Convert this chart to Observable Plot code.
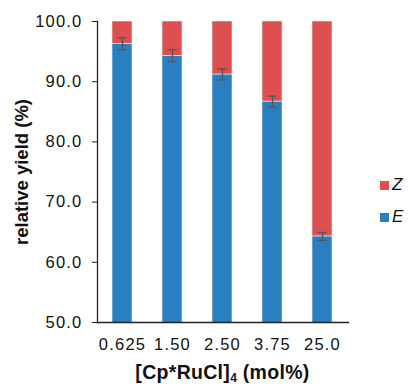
<!DOCTYPE html>
<html>
<head>
<meta charset="utf-8">
<script src="https://cdn.jsdelivr.net/npm/d3@7"></script>
<script src="https://cdn.jsdelivr.net/npm/@observablehq/plot@0.6"></script>
<style>
  body { margin: 0; background: #fff; font-family: "Liberation Sans", Arial, sans-serif; }
  #wrap { position: relative; width: 408px; height: 384px; overflow: hidden; }
  #xlabel { position: absolute; left: 97px; width: 251px; top: 362px; text-align: center; font-weight: bold; font-size: 19.5px; letter-spacing: 0.3px; color: #111; white-space: nowrap; line-height: 20px; }
  #xlabel sub { font-size: 12px; line-height: 0; vertical-align: -3px; }
  .leg { position: absolute; left: 380px; font-size: 17px; font-style: italic; color: #111; display: flex; align-items: center; letter-spacing: 0.5px; }
  .leg span.sw { display: inline-block; width: 9px; height: 9px; margin-right: 3px; }
</style>
</head>
<body>
<div id="wrap"></div>
<script>
const categories = ["0.625", "1.50", "2.50", "3.75", "25.0"];
const eValues = [96.3, 94.3, 91.2, 86.7, 64.3];
const eErrors = [1.0, 1.0, 0.9, 0.9, 0.65];
const seriesNames = ["Z", "E"];
const seriesColors = ["#de4f4f", "#2a7fc1"];
const yTicks = [50, 60, 70, 80, 90, 100];

const rows = [];
categories.forEach((c, i) => rows.push({cat: c, series: "E", value: eValues[i]}));
categories.forEach((c, i) => rows.push({cat: c, series: "Z", value: 100 - eValues[i]}));
const errs = categories.map((c, i) => ({cat: c, lo: eValues[i] - eErrors[i], hi: eValues[i] + eErrors[i]}));

const chart = Plot.plot({
  width: 408,
  height: 360,
  marginLeft: 97,
  marginRight: 60,
  marginTop: 21,
  marginBottom: 38,
  style: {fontFamily: "'Liberation Sans', Arial, sans-serif", color: "#111", background: "white"},
  x: {domain: categories, paddingInner: 0.6, paddingOuter: 0.3, label: null},
  y: {domain: [50, 100], label: null},
  color: {domain: seriesNames, range: seriesColors},
  marks: [
    Plot.barY(rows, {x: "cat", y: "value", fill: "series", stroke: "#e8f0f8", strokeWidth: 0.6, clip: true}),
    Plot.ruleX(errs, {x: "cat", y1: "lo", y2: "hi", stroke: "#555", strokeWidth: 1.3}),
    Plot.tickY(errs, {x: "cat", y: "lo", stroke: "#555", strokeWidth: 1.3, insetLeft: 5.5, insetRight: 5.5}),
    Plot.tickY(errs, {x: "cat", y: "hi", stroke: "#555", strokeWidth: 1.3, insetLeft: 5.5, insetRight: 5.5}),
    Plot.axisY({ticks: yTicks, tickFormat: d3.format(".1f"), tickSize: 5, tickPadding: 10, fontSize: 16.5, label: null, stroke: "#222"}),
    Plot.axisX({tickSize: 0, tickPadding: 16, fontSize: 16.5, label: null}),
    Plot.frame({anchor: "left", stroke: "#222", strokeWidth: 1.3}),
    Plot.frame({anchor: "bottom", stroke: "#222", strokeWidth: 1.3}),
    Plot.text(["relative yield (%)"], {frameAnchor: "left", textAnchor: "middle", rotate: -90, dx: -75, fontWeight: "bold", fontSize: 18.5, fill: "#111"})
  ]
});
d3.select(chart).selectAll("g[aria-label='y-axis tick label'] text, g[aria-label='x-axis tick label'] text")
  .style("letter-spacing", "1.2px");
const wrap = document.getElementById("wrap");
wrap.appendChild(chart);

const xl = document.createElement("div");
xl.id = "xlabel";
xl.innerHTML = "[Cp*RuCl]<sub>4</sub> (mol%)";
wrap.appendChild(xl);

const legTops = [175, 207];
seriesNames.forEach((s, i) => {
  const d = document.createElement("div");
  d.className = "leg";
  d.style.top = legTops[i] + "px";
  d.innerHTML = `<span class="sw" style="background:${seriesColors[i]}"></span>${s}`;
  wrap.appendChild(d);
});
</script>
</body>
</html>
